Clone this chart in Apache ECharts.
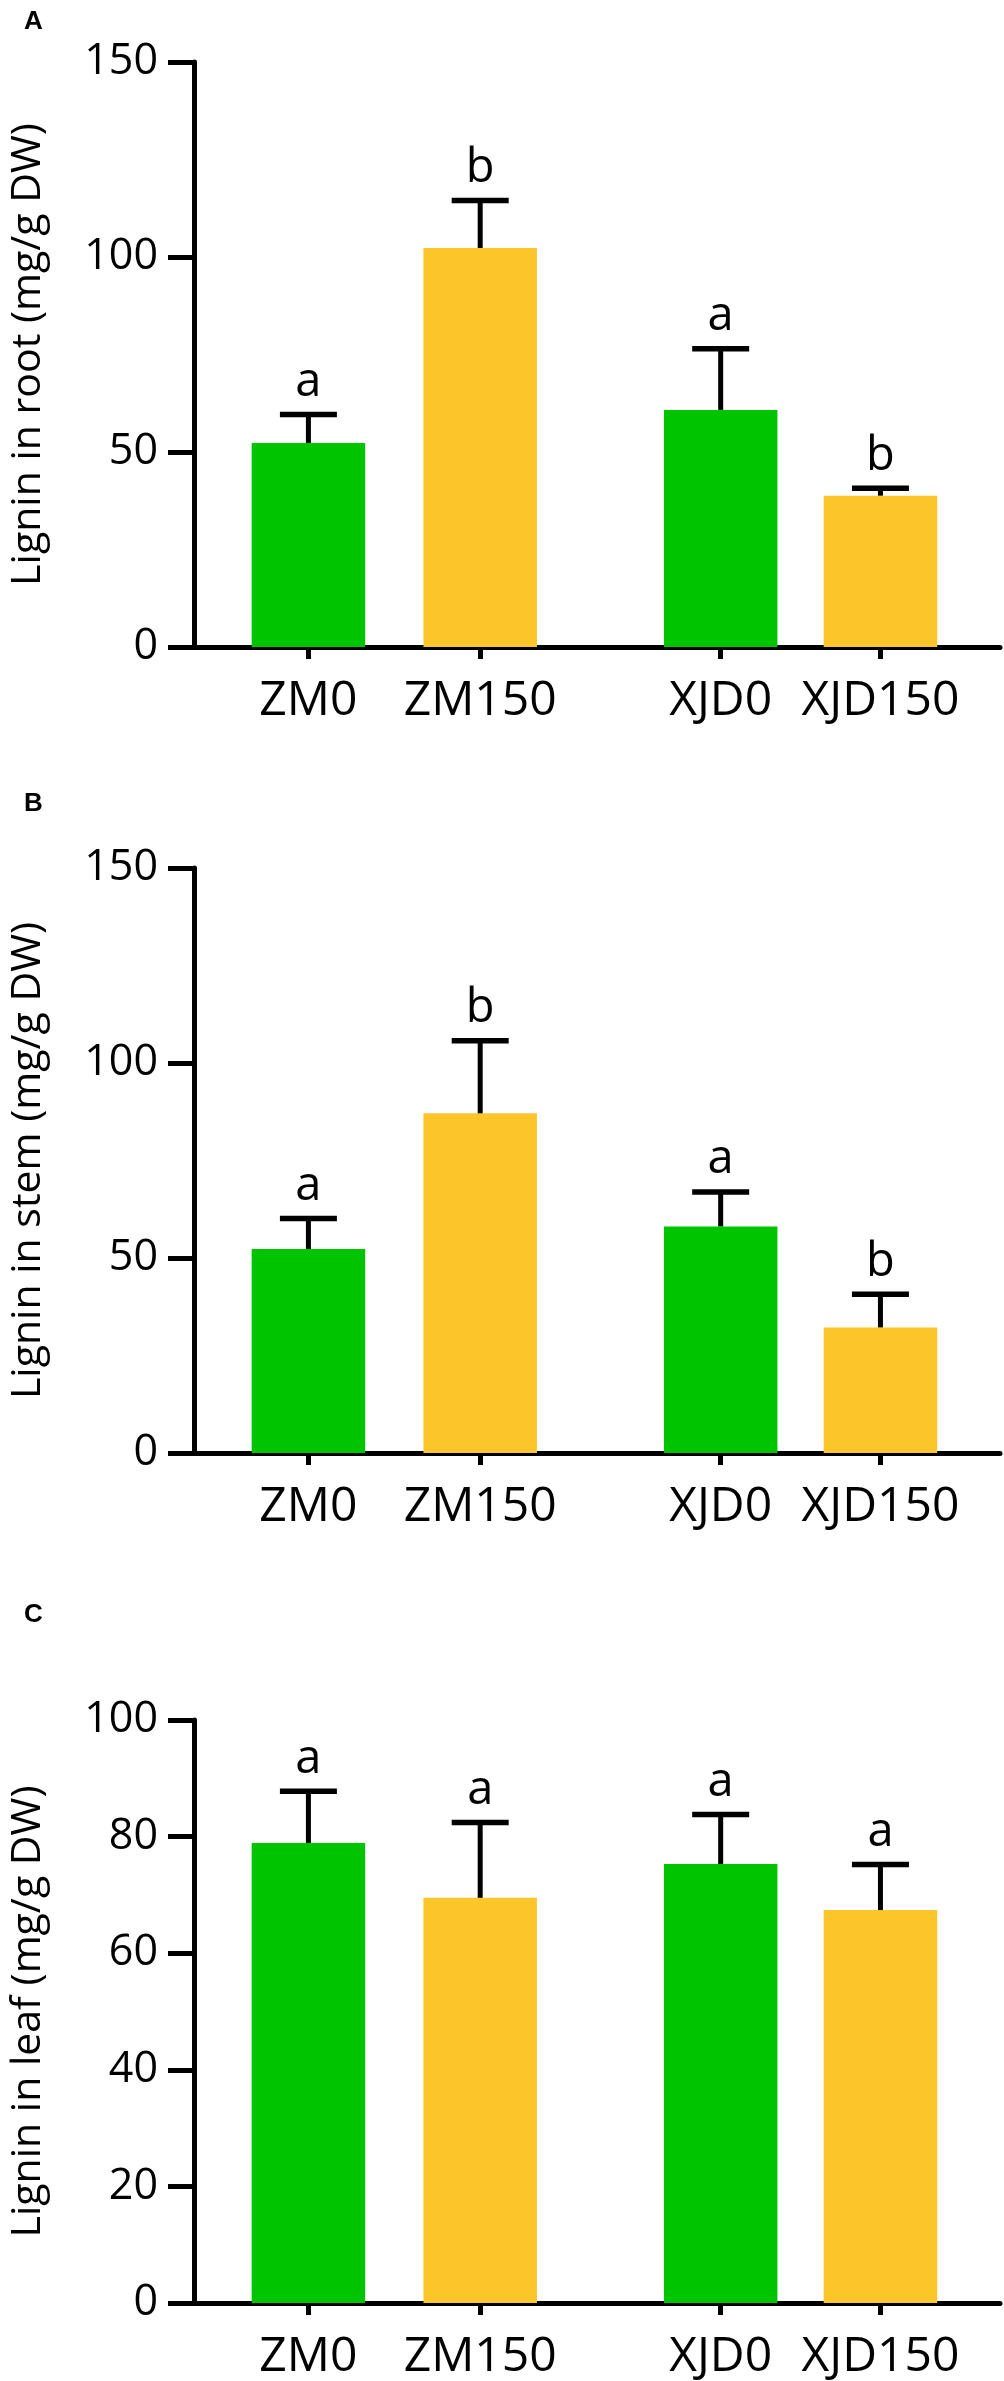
<!DOCTYPE html>
<html>
<head>
<meta charset="utf-8">
<script src="https://cdn.jsdelivr.net/npm/echarts@6/dist/echarts.min.js"></script>
<style>
html,body{margin:0;padding:0;background:#fff;}
#chart{width:1004px;height:2381px;}
</style>
</head>
<body>
<div id="chart"></div>
<script>
// ---- data ----
const categories = ['ZM0', 'ZM150', 'XJD0', 'XJD150'];
const rootMean = [52.3, 102.3, 60.8, 38.8];
const rootUpper = [59.6, 114.5, 76.5, 40.7];
const rootLetters = ['a', 'b', 'a', 'b'];
const stemMean = [52.3, 87.1, 58.1, 32.2];
const stemUpper = [60.1, 105.7, 66.9, 40.7];
const stemLetters = ['a', 'b', 'a', 'b'];
const leafMean = [78.9, 69.5, 75.3, 67.4];
const leafUpper = [87.8, 82.4, 83.8, 75.2];
const leafLetters = ['a', 'a', 'a', 'a'];
const rootTicks = [0, 50, 100, 150];
const leafTicks = [0, 20, 40, 60, 80, 100];

// ---- layout ----
const slots = [1, 2, 3.4, 4.33];        // group placement along x
const xMin = 0.334, xMax = 5.026;
const barColors = ['#00c400', '#fcc62a', '#00c400', '#fcc62a'];
const FONT = '"Open Sans", "DejaVu Sans", sans-serif';

const panels = [
  {mean: rootMean, upper: rootUpper, letters: rootLetters, name: 'Lignin in root (mg/g DW)', max: 150, interval: 50, top: 62, tag: 'A', tagTop: 4},
  {mean: stemMean, upper: stemUpper, letters: stemLetters, name: 'Lignin in stem (mg/g DW)', max: 150, interval: 50, top: 868, tag: 'B', tagTop: 786},
  {mean: leafMean, upper: leafUpper, letters: leafLetters, name: 'Lignin in leaf (mg/g DW)', max: 100, interval: 20, top: 1720, tag: 'C', tagTop: 1597}
];

const grid = [], xAxis = [], yAxis = [], series = [], title = [];
panels.forEach((p, k) => {
  grid.push({left: 193, right: 4, top: p.top, height: 585, containLabel: false});
  title.push({text: p.tag, left: 19, top: p.tagTop, textStyle: {fontFamily: 'Liberation Sans, Arial, sans-serif', fontWeight: 'bold', fontSize: 26, color: '#000'}});
  xAxis.push({
    type: 'value', gridIndex: k, min: xMin, max: xMax,
    splitLine: {show: false},
    axisLine: {show: true, lineStyle: {color: '#000', width: 5}},
    axisTick: {show: true, customValues: slots, length: 12, lineStyle: {color: '#000', width: 5}},
    axisLabel: {show: true, customValues: slots, margin: 30, fontSize: 48, fontFamily: FONT, color: '#000',
      formatter: v => { const i = slots.findIndex(s => Math.abs(s - v) < 1e-6); return i >= 0 ? categories[i] : ''; }}
  });
  yAxis.push({
    type: 'value', gridIndex: k, min: 0, max: p.max, interval: p.interval,
    name: p.name, nameLocation: 'middle', nameGap: 145, nameRotate: 90,
    nameTextStyle: {fontSize: 41, fontFamily: FONT, color: '#000'},
    splitLine: {show: false},
    axisLine: {show: true, lineStyle: {color: '#000', width: 5}},
    axisTick: {show: true, length: 26, lineStyle: {color: '#000', width: 5}},
    axisLabel: {margin: 36, fontSize: 43, fontFamily: FONT, color: '#000'}
  });
  series.push({
    type: 'bar', xAxisIndex: k, yAxisIndex: k, barWidth: 113.5, z: 2,
    data: slots.map((s, i) => ({value: [s, p.mean[i]], itemStyle: {color: barColors[i]}}))
  });
  const letters = p.letters;
  series.push({
    type: 'custom', xAxisIndex: k, yAxisIndex: k, z: 3,
    data: slots.map((s, i) => [s, p.mean[i], p.upper[i]]),
    renderItem: (params, api) => {
      const x = api.value(0), m = api.value(1), u = api.value(2);
      const a = api.coord([x, m]), b = api.coord([x, u]);
      return {type: 'group', children: [
        {type: 'line', shape: {x1: a[0], y1: a[1], x2: b[0], y2: b[1]}, style: {stroke: '#000', lineWidth: 5}},
        {type: 'line', shape: {x1: b[0] - 28.5, y1: b[1], x2: b[0] + 28.5, y2: b[1]}, style: {stroke: '#000', lineWidth: 5.5}},
        {type: 'text', x: b[0], y: b[1] - 8.5, style: {text: letters[params.dataIndex], fontSize: 47, fontFamily: FONT, fill: '#000', align: 'center', verticalAlign: 'bottom'}}
      ]};
    }
  });
});

const chart = echarts.init(document.getElementById('chart'), null, {renderer: 'canvas'});
chart.setOption({backgroundColor: '#fff', animation: false, title, grid, xAxis, yAxis, series});
</script>
</body>
</html>
